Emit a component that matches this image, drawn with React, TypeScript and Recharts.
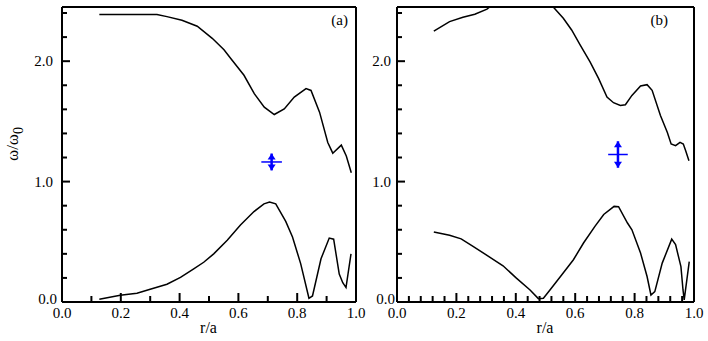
import { LineChart, Line, XAxis, YAxis, ReferenceLine } from 'recharts'

const FONT = 'Liberation Serif'
const BLUE = '#0000ff'

// panel (a): upper and lower branch, r/a vs omega/omega0
const aUpperR = [0.127, 0.2, 0.323, 0.357, 0.408, 0.46, 0.511, 0.551, 0.574, 0.619, 0.654, 0.688, 0.722, 0.756, 0.79, 0.83, 0.847, 0.876, 0.904, 0.921, 0.95, 0.967, 0.984]
const aUpperW = [2.387, 2.387, 2.387, 2.37, 2.34, 2.29, 2.19, 2.095, 2.023, 1.883, 1.73, 1.618, 1.557, 1.604, 1.702, 1.772, 1.757, 1.577, 1.325, 1.236, 1.303, 1.213, 1.074]
const aLowerR = [0.127, 0.198, 0.255, 0.3, 0.357, 0.403, 0.448, 0.482, 0.516, 0.562, 0.607, 0.653, 0.687, 0.706, 0.727, 0.761, 0.784, 0.812, 0.84, 0.852, 0.881, 0.909, 0.924, 0.943, 0.955, 0.966, 0.983]
const aLowerW = [0.022, 0.056, 0.073, 0.106, 0.148, 0.204, 0.275, 0.33, 0.4, 0.513, 0.639, 0.751, 0.815, 0.83, 0.815, 0.669, 0.54, 0.317, 0.031, 0.05, 0.359, 0.531, 0.522, 0.232, 0.16, 0.12, 0.4]

// panel (b): upper branch leaves the frame between 0.31 and 0.53
const bUpperLeftR = [0.124, 0.177, 0.222, 0.262, 0.303, 0.312]
const bUpperLeftW = [2.25, 2.329, 2.365, 2.39, 2.432, 2.45]
const bUpperRightR = [0.526, 0.56, 0.588, 0.617, 0.65, 0.679, 0.707, 0.729, 0.752, 0.769, 0.791, 0.82, 0.842, 0.859, 0.887, 0.91, 0.923, 0.938, 0.953, 0.964, 0.972, 0.983]
const bUpperRightW = [2.45, 2.357, 2.259, 2.134, 1.994, 1.855, 1.702, 1.655, 1.632, 1.638, 1.716, 1.794, 1.805, 1.758, 1.549, 1.41, 1.312, 1.298, 1.326, 1.312, 1.256, 1.173]
const bLowerR = [0.124, 0.177, 0.216, 0.256, 0.312, 0.357, 0.402, 0.448, 0.476, 0.493, 0.515, 0.555, 0.594, 0.628, 0.667, 0.696, 0.731, 0.746, 0.776, 0.791, 0.82, 0.842, 0.855, 0.868, 0.893, 0.925, 0.938, 0.956, 0.963, 0.967, 0.984]
const bLowerW = [0.582, 0.554, 0.524, 0.462, 0.373, 0.301, 0.198, 0.1, 0.028, 0.031, 0.1, 0.226, 0.351, 0.49, 0.63, 0.727, 0.794, 0.791, 0.656, 0.6, 0.407, 0.212, 0.058, 0.086, 0.323, 0.522, 0.476, 0.294, 0.1, 0.017, 0.336]

// measured points (a), (b) with error
const measR = [0.713, 0.744]
const measW = [1.163, 1.225]
const measDr = [0.035, 0.033]
const measDw = [0.07, 0.11]

// ticks
const xTicksA = [0, 0.1, 0.2, 0.3, 0.4, 0.5, 0.6, 0.7, 0.8, 0.9, 1]
const xTicksB = [0, 0.04, 0.08, 0.12, 0.16, 0.2, 0.24, 0.28, 0.32, 0.36, 0.4, 0.44, 0.48, 0.52, 0.56, 0.6, 0.64, 0.68, 0.72, 0.76, 0.8, 0.84, 0.88, 0.92, 0.96, 1]
const xLabels = [0, 0.2, 0.4, 0.6, 0.8, 1]
const yTicks = [0, 0.2, 0.4, 0.6, 0.8, 1, 1.2, 1.4, 1.6, 1.8, 2, 2.2, 2.4]
const yLabels = [0, 1, 2]
const Y_MAX = 2.45

const zip = (r: number[], w: number[]) => r.map((v, i) => ({ r: v, w: w[i] }))
const isMajor = (v: number, list: number[]) => list.some(l => Math.abs(l - v) < 1e-6)
const frameLine = { stroke: '#000', strokeWidth: 2 }

// axes get 1px of room (0 hides them), ticks drawn inward by hand
const XTick = (props: any) => {
  const { x, y, payload } = props
  const major = isMajor(payload.value, xLabels)
  return (
    <g>
      <line x1={x} x2={x} y1={y} y2={y - (major ? 9 : 6)} stroke="#000" strokeWidth={2} />
      {major && (
        <text x={x} y={y + 16} textAnchor="middle" fontSize={15} fontFamily={FONT} fill="#000">
          {payload.value.toFixed(1)}
        </text>
      )}
    </g>
  )
}

const makeYTick = (gap: number) => (props: any) => {
  const { x, y, payload } = props
  const major = isMajor(payload.value, yLabels)
  const zero = payload.value === 0
  return (
    <g>
      <line x1={x} x2={x + (major ? 8 : 5)} y1={y} y2={y} stroke="#000" strokeWidth={2} />
      {major && (
        <text x={x - (zero ? gap - 4 : gap)} y={y - (zero ? 3 : 0)} dy="0.35em" textAnchor="end" fontSize={15} fontFamily={FONT} fill="#000">
          {payload.value.toFixed(1)}
        </text>
      )}
    </g>
  )
}

const ArrowTip = (props: any) => {
  const { cx, cy, index } = props
  if (cx == null || cy == null) return <g key={index} />
  const d = index === 0 ? -6 : 6
  return <polygon key={index} points={`${cx},${cy} ${cx - 4},${cy + d} ${cx + 4},${cy + d}`} fill={BLUE} />
}

function Panel({ xTicks, yGap, lines, meas, width, margin }: any) {
  const hor = [{ r: measR[meas] - measDr[meas], w: measW[meas] }, { r: measR[meas] + measDr[meas], w: measW[meas] }]
  const ver = [{ r: measR[meas], w: measW[meas] - measDw[meas] }, { r: measR[meas], w: measW[meas] + measDw[meas] }]
  return (
    <LineChart width={width} height={341} margin={margin}>
      <XAxis
        type="number" dataKey="r" domain={[0, 1]} ticks={xTicks} interval={0}
        height={1} tickSize={0} tickMargin={0} axisLine={frameLine} tickLine={false} tick={XTick}
      />
      <YAxis
        type="number" domain={[0, Y_MAX]} ticks={yTicks} interval={0}
        width={1} tickSize={0} tickMargin={0} axisLine={frameLine} tickLine={false} tick={makeYTick(yGap)}
      />
      <ReferenceLine y={Y_MAX} stroke="#000" strokeWidth={2} ifOverflow="visible" />
      <ReferenceLine x={1} stroke="#000" strokeWidth={2} ifOverflow="visible" />
      {lines.map((d: any, k: number) => (
        <Line key={k} data={d} dataKey="w" stroke="#000" strokeWidth={1.5} dot={false} isAnimationActive={false} />
      ))}
      <Line data={hor} dataKey="w" stroke={BLUE} strokeWidth={1.5} dot={false} isAnimationActive={false} />
      <Line data={ver} dataKey="w" stroke={BLUE} strokeWidth={2.5} dot={ArrowTip} isAnimationActive={false} />
    </LineChart>
  )
}

export default function App() {
  return (
    <div style={{ position: 'absolute', left: 0, top: 0, width: 708, height: 341, background: '#fff' }}>
      <div style={{ position: 'absolute', left: 0, top: 0 }}>
        <Panel
          xTicks={xTicksA} yGap={9} meas={0} width={380}
          margin={{ top: 7, right: 24, bottom: 38, left: 61 }}
          lines={[zip(aUpperR, aUpperW), zip(aLowerR, aLowerW)]}
        />
      </div>
      <div style={{ position: 'absolute', left: 360, top: 0 }}>
        <Panel
          xTicks={xTicksB} yGap={6} meas={1} width={348}
          margin={{ top: 7, right: 14, bottom: 38, left: 36 }}
          lines={[zip(bUpperLeftR, bUpperLeftW), zip(bUpperRightR, bUpperRightW), zip(bLowerR, bLowerW)]}
        />
      </div>
      {/* titles and panel tags */}
      <svg width={708} height={341} style={{ position: 'absolute', left: 0, top: 0, pointerEvents: 'none' }}>
        <text x={18} y={144} transform="rotate(-90 18 144)" textAnchor="middle" fontSize={17} fontFamily={FONT} fill="#000">
          ω/ω<tspan dy="0.35em" fontSize={14}>0</tspan>
        </text>
        <text x={208.5} y={333} textAnchor="middle" fontSize={16} fontFamily={FONT} fill="#000">r/a</text>
        <text x={545} y={333} textAnchor="middle" fontSize={16} fontFamily={FONT} fill="#000">r/a</text>
        <text x={348} y={25} textAnchor="end" fontSize={15} fontFamily={FONT} fill="#000">(a)</text>
        <text x={668} y={25} textAnchor="end" fontSize={15} fontFamily={FONT} fill="#000">(b)</text>
      </svg>
    </div>
  )
}
